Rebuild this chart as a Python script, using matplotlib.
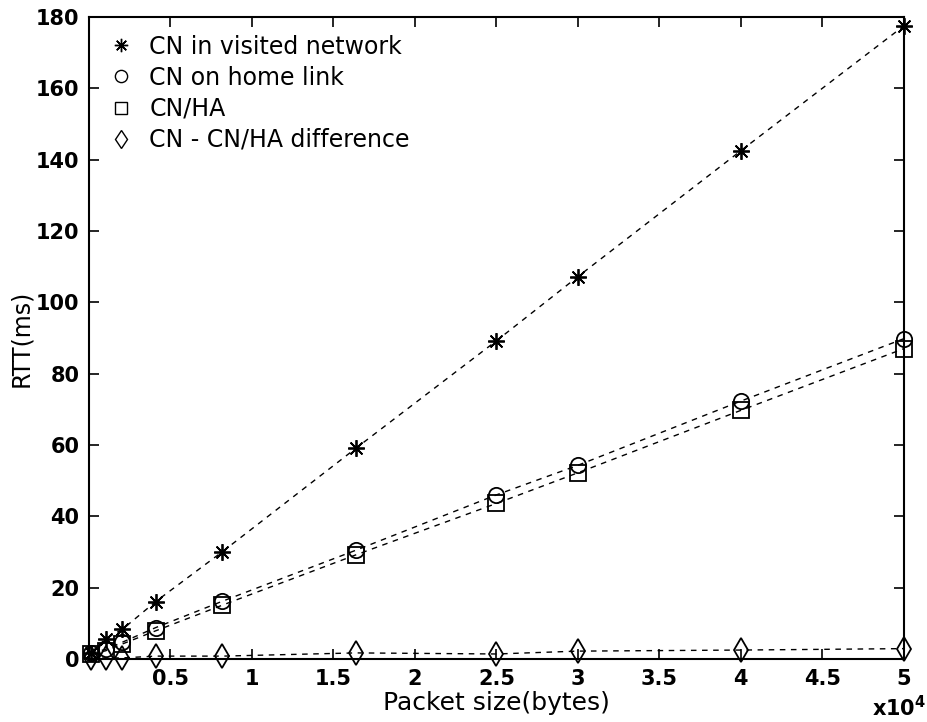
import numpy as np
import matplotlib
matplotlib.use("Agg")
import matplotlib.pyplot as plt
from matplotlib.lines import Line2D

plt.rcParams['font.family'] = ['DejaVu Sans']

# packet sizes (bytes)
sizes = [128, 1024, 2048, 4096, 8192, 16384, 25000, 30000, 40000, 50000]

# RTT in ms
cn_visited = [1.8, 5.7, 8.3, 16.1, 30.1, 59.1, 89.2, 107.2, 142.5, 177.5]
cn_home    = [1.6, 2.7, 4.7, 8.8, 16.2, 30.5, 46.0, 54.3, 72.3, 89.8]
cn_ha      = [1.3, 2.3, 4.2, 7.9, 15.1, 29.2, 43.6, 52.2, 69.7, 87.0]
diff       = [0.2, 0.3, 0.3, 0.8, 0.8, 1.7, 1.4, 2.2, 2.5, 2.9]

labels = ["CN in visited network", "CN on home link", "CN/HA",
          "CN - CN/HA difference"]
markers = [(8, 2, 0), "o", "s", "d"]
msizes = [12, 11, 11, 12]

fig = plt.figure(figsize=(9.27, 7.22), dpi=100)
ax = fig.add_axes([0.096, 0.0873, 0.879, 0.8892])

for series, m, ms in zip([cn_visited, cn_home, cn_ha, diff], markers, msizes):
    ax.plot(sizes, series, color="black", linestyle=(0, (4, 4)), linewidth=1,
            marker=m, markersize=ms, markerfacecolor="none",
            markeredgecolor="black", markeredgewidth=1.3, clip_on=False)

ax.set_xlim(0, 50000)
ax.set_ylim(0, 180)
xt = np.arange(5000, 50001, 5000)
ax.set_xticks(xt)
ax.set_xticklabels(["0.5", "1", "1.5", "2", "2.5", "3", "3.5", "4", "4.5", "5"])
ax.set_yticks(np.arange(0, 181, 20))

ax.tick_params(direction="in", length=7, width=1.2, top=True, right=True,
               labelsize=15, pad=7)
for lab in ax.get_xticklabels() + ax.get_yticklabels():
    lab.set_fontweight("bold")
for sp in ax.spines.values():
    sp.set_linewidth(1.5)

ax.set_xlabel("Packet size(bytes)", fontsize=18, labelpad=2)
ax.set_ylabel("RTT(ms)", fontsize=17, labelpad=2)
fig.text(0.999, 0.002, r"x10$^{\mathbf{4}}$", fontsize=15, fontweight="bold",
         ha="right", va="bottom")

handles = [Line2D([], [], linestyle="none", marker=m, markersize=ms * 0.8,
                  markerfacecolor="none", markeredgecolor="black",
                  markeredgewidth=1)
           for m, ms in zip(markers, msizes)]
ax.legend(handles, labels, loc="upper left", bbox_to_anchor=(0.006, 1.0),
          frameon=False, fontsize=17, handlelength=0.8, handletextpad=0.8,
          labelspacing=0.3, borderaxespad=0.35)

fig.savefig("out.png", dpi=100)
